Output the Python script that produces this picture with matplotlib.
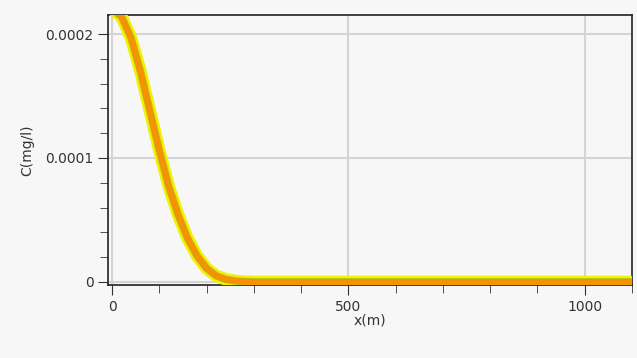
import numpy as np
import matplotlib.pyplot as plt
from matplotlib.ticker import MultipleLocator

# distance (m) and concentration (mg/l)
x_m = [0, 20, 40, 60, 80, 100, 120, 140, 160, 180, 200, 220, 240, 260, 280, 300, 1100]
c_mgl = [2.2e-4, 2.14e-4, 1.97e-4, 1.70e-4, 1.38e-4, 1.06e-4, 7.7e-5, 5.4e-5,
         3.5e-5, 2.1e-5, 1.1e-5, 5.0e-6, 2.2e-6, 9e-7, 3e-7, 0, 0]

fig = plt.figure(figsize=(6.37, 3.58), dpi=100, facecolor='#f7f7f7')
ax = fig.add_axes([0.170, 0.204, 0.822, 0.754], facecolor='#f7f7f7')

ax.plot(x_m, c_mgl, color='#f4f000', lw=9, solid_capstyle='butt', zorder=3)
ax.plot(x_m, c_mgl, color='#a6cc2a', lw=5.5, solid_capstyle='butt', zorder=4)
ax.plot(x_m, c_mgl, color='#f59200', lw=4.5, solid_capstyle='butt', zorder=5)

ax.set_xlim(-8, 1100)
ax.set_ylim(-2.4e-6, 2.153e-4)

ax.xaxis.set_major_locator(MultipleLocator(500))
ax.xaxis.set_minor_locator(MultipleLocator(100))
ax.yaxis.set_major_locator(MultipleLocator(1e-4))
ax.yaxis.set_minor_locator(MultipleLocator(2e-5))
ax.set_yticks([0, 1e-4, 2e-4])
ax.set_yticklabels(['0', '0.0001', '0.0002'])

ax.grid(True, which='major', color='#d4d4d4', lw=1.5)
ax.tick_params(which='major', direction='out', length=7, labelsize=10,
               colors='#333333')
ax.tick_params(which='minor', direction='out', length=6, color='#333333')

for s in ax.spines.values():
    s.set_color('#222222')
    s.set_linewidth(1.2)

ax.set_xlabel('x(m)', fontsize=10, labelpad=0, color='#333333')
ax.set_ylabel('C(mg/l)', fontsize=10, labelpad=8, color='#333333')

fig.savefig('out.png', dpi=100, facecolor=fig.get_facecolor())
